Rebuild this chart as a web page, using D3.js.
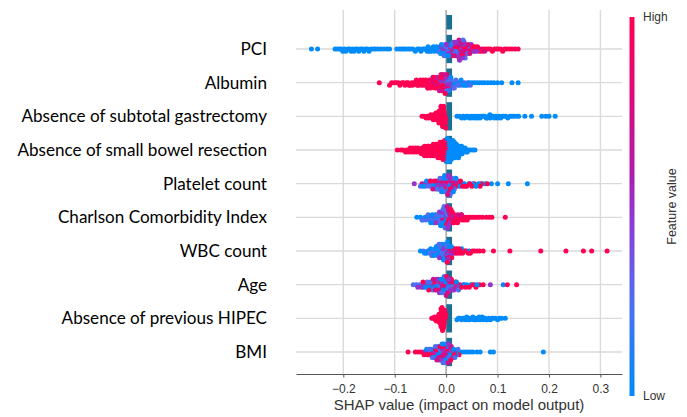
<!DOCTYPE html>
<html><head><meta charset="utf-8">
<script src="https://cdn.jsdelivr.net/npm/d3@7"></script>
<style>html,body{margin:0;padding:0;background:#fff;} svg{display:block}</style>
</head><body>
<svg id="chart" width="687" height="417"></svg>
<script>
// ---------- DATA ----------
const features = ["PCI","Albumin","Absence of subtotal gastrectomy","Absence of small bowel resection",
  "Platelet count","Charlson Comorbidity Index","WBC count","Age","Absence of previous HIPEC","BMI"];
// feature-value level of each sub-array (0 = low/blue … 1 = high/red)
const featureLevels = [0, 0.25, 0.5, 0.75, 1];
// SHAP values in thousandths, grouped by feature-value level
const shapPCI = [
  [-262,-250,-216,-212,-208,-204,-201,-198,-195,-191,-188,-185,-182,-179,-176,-173,-170,-167,-163,-160,-157,-153,-150,-146,-141,-137,-132,-127,-121,-115,-110,-96,-91,-87,-83,-79,-74,-70,-65,-60,-56,-52,-49,-46,-43,-40,-37,-35,-33,-31,-29,-27,-25,-23,-21,-19,-17,-15,-13,-11,-9,-7,-5,-3,-1,2,5,9,13],
  [-16,-12,-8,-4,-2,0,3,6,8,11,14,17,19,22,26,29,33,37,42,47],
  [-10,-6,-3,1,4,7,10,12,15,17,20,22,24,26,28,29,31,33,35,36,38,41,44,49,54,60],
  [2,8,13,16,19,21,23,25,27,28,30,32,34,36,37,39,43,46,50,55,59,64,69,75],
  [11,18,23,25,27,30,31,33,36,40,45,48,52,56,61,65,70,73,78,82,86,90,94,98,102,106,110,114,118,123,128,134,140]
];
const shapAlbumin = [
  [5,9,15,18,21,25,29,33,37,41,45,50,55,60,65,70,75,81,87,93,100,108,128,140],
  [-6,-3,1,3,5,7,10,13,16,19,23,27,31,36,42,47],
  [-26,-18,-12,-7,-4,-1,0,2,4,6,8,11,14],
  [-36,-31,-28,-23,-20,-15,-13,-10,-8,-5,-3,-1,1,3],
  [-130,-110,-106,-101,-97,-93,-90,-86,-83,-80,-77,-74,-72,-70,-67,-65,-63,-60,-58,-56,-54,-52,-50,-48,-46,-45,-43,-41,-40,-38,-37,-35,-33,-32,-30,-29,-27,-25,-24,-22,-21,-19,-17,-16,-14,-12,-11,-9,-7,-6,-4,-2]
];
const shapSubtotal = [
  [21,26,30,33,36,39,42,45,48,50,53,56,58,61,63,66,69,72,75,78,80,83,85,86,88,91,94,97,100,103,106,109,112,116,120,124,128,132,137,141,153,166,186,194,200,212],
  [],[],[],
  [-47,-43,-39,-37,-34,-32,-30,-28,-27,-25,-24,-22,-21,-20,-19,-18,-17,-16,-15,-14,-14,-13,-12,-12,-11,-11,-10,-10,-9,-9,-8,-8,-8,-7,-7,-7,-6,-6,-6,-5,-5,-5,-4,-4,-4,-3,-3,-3,-2,-2,-2,-1,-1]
];
const shapSmallBowel = [
  [0,0,0,1,1,1,2,2,2,3,3,4,4,5,5,5,6,6,7,7,7,8,8,9,9,10,10,11,11,12,12,12,13,13,14,14,15,15,16,16,17,17,18,18,19,20,20,21,22,22,23,23,24,25,26,26,27,28,29,30,31,32,33,34,35,37,39,41,43,47,52,56],
  [],[],[],
  [-95,-88,-84,-79,-77,-74,-72,-70,-68,-66,-65,-63,-61,-60,-58,-56,-55,-53,-51,-50,-48,-47,-46,-45,-44,-43,-42,-42,-41,-40,-39,-38,-37,-37,-36,-35,-34,-33,-32,-31,-30,-29,-28,-27,-27,-26,-25,-24,-23,-23,-22,-21,-21,-20,-19,-19,-18,-17,-17,-16,-16,-15,-14,-14,-13,-13,-12,-12,-11,-11,-10,-9,-9,-8,-8,-7,-7,-6,-6,-6,-5,-5,-4,-4,-3,-3,-3,-2,-2,-1,-1]
];
const shapPlatelet = [
  [-45,-38,-30,-24,-18,-14,-9,-6,-3,0,3,6,10,14,19,27,35,44,52,58,63,70,76,88,100,121,158],
  [-50,-40,-33,-27,-22,-17,-12,-8,-4,-1,2,5,8,12,16],
  [-62,-42,-35,-28,-21,-16,-11,-7,-2,1,4,7,11,15,22],
  [-47,-36,-26,-19,-13,-10,-5,-1,3,6,9,13,18,24,31],
  [-31,-23,-15,-9,-4,0,2,5,8,12,17,21,25,28,32,36,40,46,50,55,66,68,80]
];
const shapCharlson = [
  [-57,-50,-45,-41,-37,-33,-30,-27,-24,-21,-18,-15,-13,-11,-9,-7,-5,-3,-1],
  [-47,-39,-35,-31,-28,-25,-22,-19,-16,-14,-12,-10,-8,-6,-4,-2,0,2,4],
  [-26,-20,-13,-9,-5,-3,-1,1,3,5,7,10],
  [-8,-2,2,4,6,8,11,14,18,23,29],
  [0,3,5,7,9,12,13,15,17,19,21,22,24,26,27,30,32,34,36,38,41,44,47,51,55,60,65,71,78,84,89,115]
];
const shapWBC = [
  [-50,-42,-38,-34,-30,-27,-24,-21,-19,-17,-15,-13,-11,-9,-7,-5,-3,-1,1,3,6,10,30,45],
  [-44,-36,-32,-28,-25,-22,-20,-16,-14,-12,-10,-8,-6,-4,-2,0,2,4,8,12],
  [-26,-18,-13,-9,-6,-3,-1,1,4,7,10,14],
  [-11,-4,0,3,5,9,13,17,22],
  [2,6,11,15,18,20,23,25,27,29,32,34,37,40,43,47,51,55,60,65,72,92,124,184,233,267,283,313]
];
const shapAge = [
  [-40,-33,-27,-22,-18,-14,-10,-6,-3,0,4,8,13,20,28,35,40,48,55,60,111],
  [-64,-58,-52,-46,-42,-37,-31,-26,-20,-16,-12,-8,-4,-1,2,6,11,17,24],
  [-55,-48,-44,-35,-29,-24,-19,-13,-9,-5,-2,1,5,9,15,22,86],
  [-38,-30,-25,-21,-15,-11,-7,-3,0,3,7,12,18,26,33],
  [-45,-34,-23,-17,-12,-7,-2,1,4,10,14,19,23,30,38,45,52,58,65,72,119,137]
];
const shapHIPEC = [
  [21,24,27,30,33,35,37,40,42,44,46,48,50,52,54,56,58,60,62,64,66,68,70,72,74,76,78,80,83,86,89,92,96,100,104,108,115],
  [],[],[],
  [-28,-25,-23,-21,-19,-18,-17,-16,-15,-14,-13,-13,-12,-12,-11,-11,-10,-10,-10,-9,-9,-9,-8,-8,-8,-8,-7,-7,-7,-7,-6,-6,-6,-6,-5,-5,-5,-5,-4,-4,-4,-3,-3,-3,-2,-2,-1,-1]
];
const shapBMI = [
  [-38,-30,-24,-19,-15,-11,-8,-5,-2,1,4,7,11,15,20,26,32,37,42,47,52,60,66,86,92,189],
  [-33,-27,-21,-16,-12,-9,-6,-3,0,3,6,9,13,17,23],
  [-45,-36,-28,-22,-17,-13,-10,-7,-4,-1,2,5,8,12,18],
  [-40,-31,-25,-18,-14,-10,-6,-2,1,4,10,14,21],
  [-74,-60,-55,-50,-43,-35,-29,-23,-20,-16,-12,-8,-4,-1,2,6,9,16,25]
];
const shapByFeature = [shapPCI, shapAlbumin, shapSubtotal, shapSmallBowel, shapPlatelet,
  shapCharlson, shapWBC, shapAge, shapHIPEC, shapBMI];
const tickValues = [-0.2, -0.1, 0.0, 0.1, 0.2, 0.3];
const xDomain = [-0.292, 0.342];
// colour-map stops (low → high)
const colorStops = [0, 0.25, 0.45, 0.6, 0.8, 1];
const colorHex = ["#008bfb", "#4d6ef2", "#8a3dd8", "#b01aa8", "#e00a78", "#ff0052"];

// ---------- CHART ----------
const svg = d3.select("#chart");
const x = d3.scaleLinear().domain(xDomain).range([296, 622]);
const y = d3.scalePoint().domain(features).range([49, 352]);
const rowStep = y.step();
const plotTop = 10, plotBottom = 374, barTop = 15;
const color = d3.scaleLinear().domain(colorStops).range(colorHex).interpolate(d3.interpolateRgb);
const [xl, xr] = x.range();

// vertical grid lines
svg.append("g").selectAll("line").data(tickValues.filter(d => d !== 0)).join("line")
  .attr("x1", d => x(d)).attr("x2", d => x(d)).attr("y1", plotTop).attr("y2", plotBottom)
  .attr("stroke", "#dadada").attr("stroke-width", 1.4);
// row lines
svg.append("g").selectAll("line").data(features).join("line")
  .attr("x1", xl).attr("x2", xr).attr("y1", d => y(d)).attr("y2", d => y(d))
  .attr("stroke", "#dadada").attr("stroke-width", 1.4);
// zero line
svg.append("line").attr("x1", x(0)).attr("x2", x(0)).attr("y1", plotTop).attr("y2", plotBottom)
  .attr("stroke", "#a0a0a0").attr("stroke-width", 1.4);

// teal bar segments behind the swarm
const segIdx = d3.range(-1, features.length);
svg.append("g").selectAll("rect").data(segIdx).join("rect")
  .attr("x", x(0.0005)).attr("width", x(0.0115) - x(0.0005))
  .attr("y", i => Math.max(barTop, y(features[0]) + i * rowStep - rowStep * 0.42))
  .attr("height", i => {
    const top = y(features[0]) + i * rowStep - rowStep * 0.42;
    const bot = top + rowStep * 0.84;
    return Math.max(0, bot - Math.max(barTop, top));
  })
  .attr("fill", "#1b6e94");

// beeswarm layout (SHAP-style binning)
function hashKey(i) { return ((i + 1) * 7919) % 1009; }
const allPts = [];
shapByFeature.forEach((groups, fi) => {
  const pts = [];
  groups.forEach((vals, li) => vals.forEach(v => pts.push({ v: v / 1000, f: featureLevels[li] })));
  pts.forEach((p, i) => { p.key = hashKey(i); p.bin = Math.floor(p.v * 1000 / 5); });
  const sorted = pts.slice().sort((a, b) => a.bin - b.bin || a.key - b.key);
  let layer = 0, last = null;
  sorted.forEach(p => {
    if (p.bin !== last) layer = 0;
    p.ys = Math.ceil(layer / 2) * ((layer % 2) * 2 - 1);
    layer++; last = p.bin;
  });
  const M = d3.max(pts, p => Math.abs(p.ys));
  const scale = 0.4 * rowStep / (M + 1);
  pts.forEach(p => { p.cy = y(features[fi]) + p.ys * scale; p.cx = x(p.v); });
  pts.sort((a, b) => a.key - b.key);
  allPts.push(...pts);
});

svg.append("g").selectAll("circle").data(allPts).join("circle")
  .attr("cx", d => d.cx).attr("cy", d => d.cy).attr("r", 2.5)
  .attr("fill", d => color(d.f));

// x axis
const axis = svg.append("g").attr("transform", `translate(0,${plotBottom})`)
  .call(d3.axisBottom(x).tickValues(tickValues).tickFormat(d3.format(".1f")).tickSize(3.5).tickSizeOuter(0));
axis.select(".domain").attr("stroke", "#555").attr("stroke-width", 1);
axis.selectAll(".tick line").attr("stroke", "#555");
axis.selectAll(".tick text").attr("fill", "#333").attr("font-family", "Liberation Sans, Arial, sans-serif")
  .attr("font-size", 12).attr("dy", "1.05em");
svg.append("text").attr("x", (xl + xr) / 2).attr("y", 410).attr("text-anchor", "middle")
  .attr("font-family", "Liberation Sans, Arial, sans-serif").attr("font-size", 15).attr("fill", "#333")
  .text("SHAP value (impact on model output)");

// feature labels
svg.append("g").selectAll("text").data(features).join("text")
  .attr("x", 267).attr("y", d => y(d)).attr("dy", "0.35em").attr("text-anchor", "end")
  .attr("font-family", "Lato, sans-serif").attr("font-size", 17.1).attr("fill", "#000")
  .text(d => d);

// colour bar
const defs = svg.append("defs");
const grad = defs.append("linearGradient").attr("id", "cb").attr("x1", 0).attr("x2", 0).attr("y1", 1).attr("y2", 0);
d3.range(0, 1.0001, 0.05).forEach(t => grad.append("stop").attr("offset", t).attr("stop-color", color(t)));
const cbY = d3.scaleLinear().domain([0, 1]).range([396, 17]);
svg.append("rect").attr("x", 629.5).attr("width", 5).attr("y", cbY(1)).attr("height", cbY(0) - cbY(1))
  .attr("fill", "url(#cb)");
const lblFont = "Liberation Sans, Arial, sans-serif";
svg.append("text").attr("x", 643).attr("y", cbY(1)).attr("dy", "0.35em").attr("font-family", lblFont)
  .attr("font-size", 12).attr("fill", "#333").text("High");
svg.append("text").attr("x", 643).attr("y", cbY(0)).attr("dy", "0.35em").attr("font-family", lblFont)
  .attr("font-size", 12).attr("fill", "#333").text("Low");
svg.append("text").attr("transform", `translate(672,${cbY(0.5)}) rotate(-90)`).attr("text-anchor", "middle")
  .attr("dy", "0.35em").attr("font-family", lblFont).attr("font-size", 12.5).attr("fill", "#333")
  .text("Feature value");
</script>
</body></html>
